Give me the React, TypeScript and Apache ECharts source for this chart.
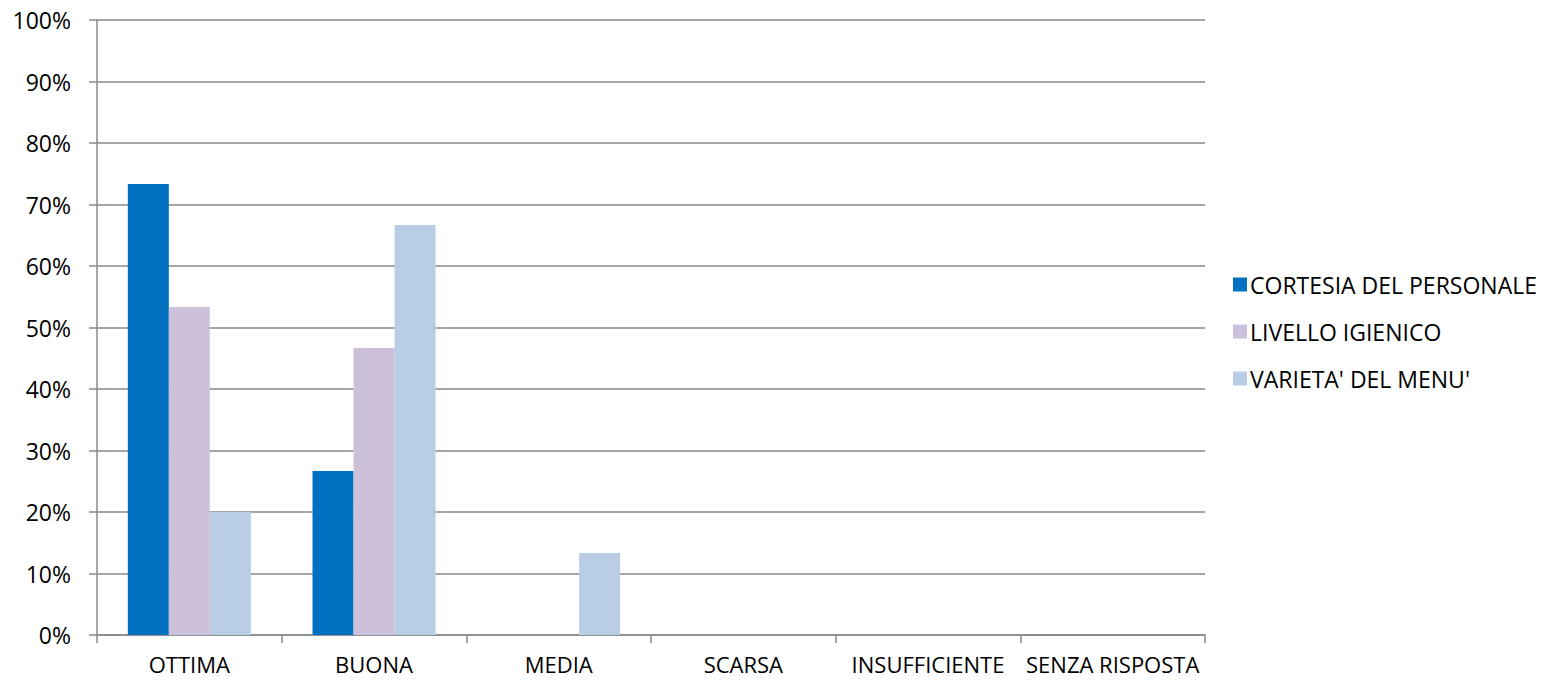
import React, { useEffect, useRef } from "react";
import * as echarts from "echarts";

const categories = ["OTTIMA", "BUONA", "MEDIA", "SCARSA", "INSUFFICIENTE", "SENZA RISPOSTA"];
const seriesNames = ["CORTESIA DEL PERSONALE", "LIVELLO IGIENICO", "VARIETA' DEL MENU'"];
const cortesia = [73.33, 26.67, 0, 0, 0, 0];
const livello = [53.33, 46.67, 0, 0, 0, 0];
const varieta = [20, 66.67, 13.33, 0, 0, 0];
const colors = ["#0070C0", "#CCC0DA", "#B9CDE5"];

const FONT = "'Open Sans', 'Noto Sans', sans-serif";

export default function App() {
  const ref = useRef<HTMLDivElement>(null);
  useEffect(() => {
    if (!ref.current) return;
    const chart = echarts.init(ref.current, undefined, { renderer: "svg" });
    const values = [cortesia, livello, varieta];
    chart.setOption({
      animation: false,
      backgroundColor: "#ffffff",
      textStyle: { fontFamily: FONT },
      grid: { left: 97, right: 336, top: 20, bottom: 46, containLabel: false },
      legend: {
        orient: "vertical",
        left: 1228,
        top: 268,
        itemWidth: 14,
        itemHeight: 14,
        itemGap: 24,
        icon: "rect",
        textStyle: { fontSize: 23, color: "#000", fontFamily: FONT, padding: [0, 0, 0, -2] },
        data: seriesNames,
      },
      xAxis: {
        type: "category",
        data: categories,
        axisLine: { lineStyle: { color: "#888", width: 1.5 } },
        axisTick: { show: true, length: 8, lineStyle: { color: "#888", width: 1.5 } },
        axisLabel: { color: "#000", fontSize: 22, lineHeight: 20, margin: 19, fontFamily: FONT, interval: 0 },
      },
      yAxis: {
        type: "value",
        min: 0,
        max: 100,
        interval: 10,
        axisLine: { show: true, lineStyle: { color: "#888", width: 1.5 } },
        axisTick: { show: true, length: 8, lineStyle: { color: "#888", width: 1.5 } },
        splitLine: { lineStyle: { color: "#888", width: 1.5 } },
        axisLabel: { color: "#000", fontSize: 23, margin: 26, fontFamily: FONT, formatter: "{value}%" },
      },
      series: seriesNames.map((name, i) => ({
        name,
        type: "bar",
        data: values[i],
        barGap: "0%",
        barCategoryGap: "33.4%",
        itemStyle: { color: colors[i] },
      })),
    });
    return () => chart.dispose();
  }, []);
  return (
    <div
      ref={ref}
      style={{ position: "fixed", left: 0, top: 0, width: 1541, height: 681 }}
    />
  );
}
